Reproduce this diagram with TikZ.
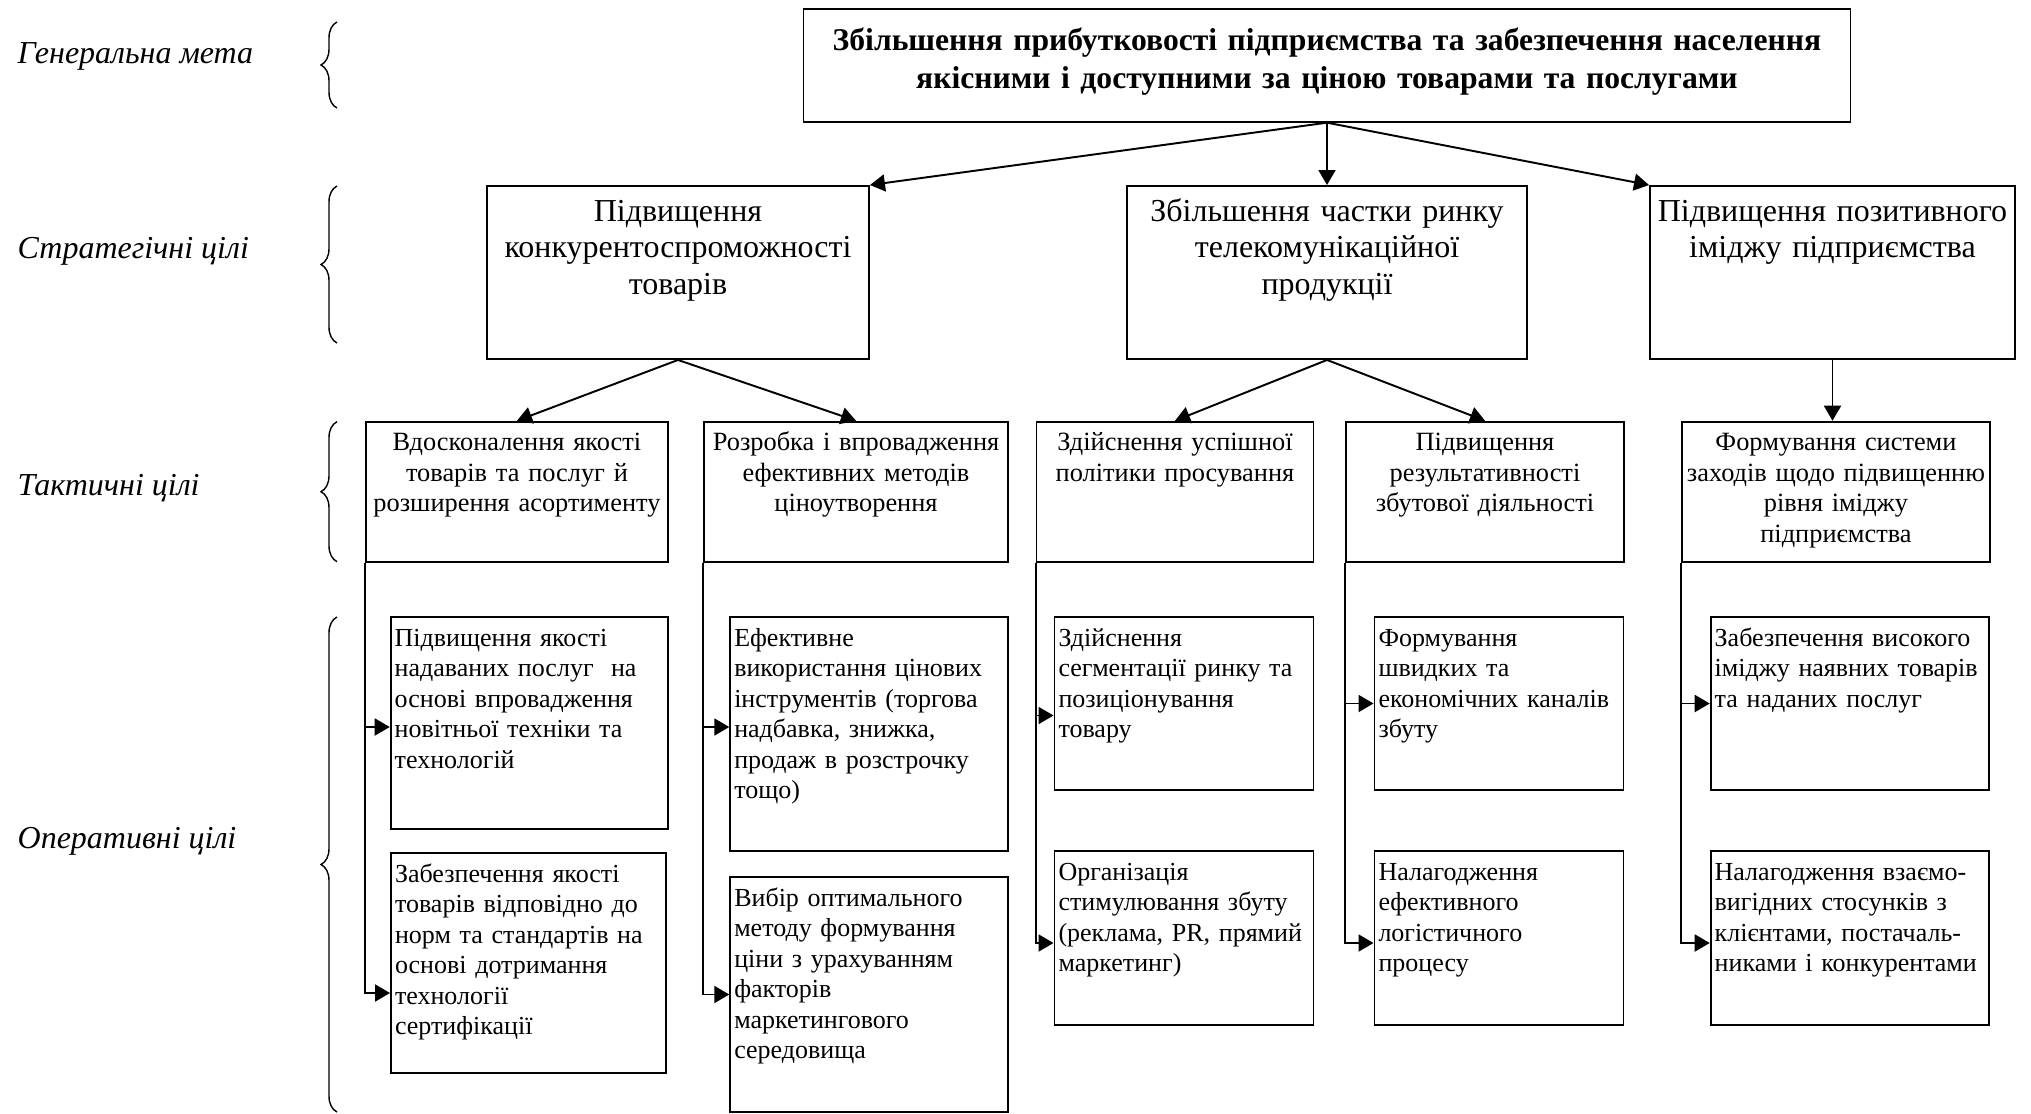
\documentclass[tikz,border=0pt]{standalone}
\usepackage{fontspec}
\setmainfont{Liberation Serif}
\usetikzlibrary{arrows.meta,positioning,calc,decorations.pathreplacing}

\begin{document}
\begin{tikzpicture}[line width=0.55pt,
  goalbox/.style={draw, inner xsep=0pt, inner ysep=0pt, align=center, text height=0.41cm, text depth=0.714cm, font=\fontsize{9.0}{10.8}\selectfont\bfseries},
  stratbox/.style={draw, inner xsep=0pt, inner ysep=0pt, align=center, text height=0.35cm, text depth=1.38cm, font=\fontsize{9.1}{10.5}\selectfont},
  tactbox/.style={draw, inner xsep=0pt, inner ysep=0pt, align=center, text height=0.29cm, text depth=1.11cm, font=\fontsize{7.5}{8.7}\selectfont},
  operbox/.style={draw, inner xsep=0.04cm, inner ysep=0pt, align=left, text height=0.29cm, font=\fontsize{7.4}{8.7}\selectfont},
  lvl/.style={anchor=base west, font=\fontsize{9.1}{10}\selectfont\itshape},
  brc/.style={decorate, decoration={brace, amplitude=0.16cm}, line width=0.4pt},
  arr/.style={-{Triangle[length=1.5mm, width=1.7mm]}}]
\useasboundingbox (0,0) rectangle (20.31,-11.14);

% levels on the left
\node[lvl] (l1) at (0.05,-0.63) {Генеральна мета};
\node[lvl] (l2) at (0.05,-2.58) {Стратегічні цілі};
\node[lvl] (l3) at (0.05,-4.95) {Тактичні цілі};
\node[lvl] (l4) at (0.05,-8.48) {Оперативні цілі};
\draw[brc] (3.37,-1.08) -- (3.37,-0.22);
\draw[brc] (3.37,-3.43) -- (3.37,-1.86);
\draw[brc] (3.37,-5.617) -- (3.37,-4.217);
\draw[brc] (3.37,-11.12) -- (3.37,-6.17);

% general goal
\node[goalbox, text width=10.47cm] (goal) at (13.27,-0.655) {Збільшення прибутковості підприємства та забезпечення населення\\ якісними і доступними за ціною товарами та послугами};

% strategic goals
\node[stratbox, text width=3.82cm] (s1) at (6.78,-2.725) {Підвищення\\ конкурентоспроможності\\ товарів};
\node[stratbox, text width=4.0cm] (s2) at (13.27,-2.725) {Збільшення частки ринку\\ телекомунікаційної\\ продукції};
\node[stratbox, text width=3.65cm] (s3) at (18.325,-2.725) {Підвищення позитивного\\ іміджу підприємства};

% tactical goals
\node[tactbox, text width=3.02cm] (t1) at (5.17,-4.917) {Вдосконалення якості\\ товарів та послуг й\\ розширення асортименту};
\node[tactbox, text width=3.035cm] (t2) at (8.56,-4.917) {Розробка і впровадження\\ ефективних методів\\ ціноутворення};
\node[tactbox, text width=2.77cm] (t3) at (11.75,-4.917) {Здійснення успішної\\ політики просування};
\node[tactbox, text width=2.776cm] (t4) at (14.85,-4.917) {Підвищення\\ результативності\\ збутової діяльності};
\node[tactbox, text width=3.08cm] (t5) at (18.36,-4.917) {Формування системи\\ заходів щодо підвищенню\\ рівня іміджу\\ підприємства};

% operational goals
\node[operbox, text width=2.696cm, text depth=1.83cm] (o1a) at (5.295,-7.23) {Підвищення якості\\ надаваних послуг~ на\\ основі впровадження\\ новітньої техніки та\\ технологій};
\node[operbox, text width=2.67cm, text depth=1.91cm] (o1b) at (5.285,-9.63) {Забезпечення якості\\ товарів відповідно до\\ норм та стандартів на\\ основі дотримання\\ технології\\ сертифікації};
\node[operbox, text width=2.695cm, text depth=2.05cm] (o2a) at (8.69,-7.34) {Ефективне\\ використання цінових\\ інструментів (торгова\\ надбавка, знижка,\\ продаж в розстрочку\\ тощо)};
\node[operbox, text width=2.695cm, text depth=2.06cm] (o2b) at (8.69,-9.945) {Вибір оптимального\\ методу формування\\ ціни з урахуванням\\ факторів\\ маркетингового\\ середовища};
\node[operbox, text width=2.51cm, text depth=1.44cm] (o3a) at (11.84,-7.035) {Здійснення\\ сегментації ринку та\\ позиціонування\\ товару};
\node[operbox, text width=2.51cm, text depth=1.45cm] (o3b) at (11.84,-9.38) {Організація\\ стимулювання збуту\\ (реклама, PR, прямий\\ маркетинг)};
\node[operbox, text width=2.41cm, text depth=1.44cm] (o4a) at (14.99,-7.035) {Формування\\ швидких та\\ економічних каналів\\ збуту};
\node[operbox, text width=2.41cm, text depth=1.45cm] (o4b) at (14.99,-9.38) {Налагодження\\ ефективного\\ логістичного\\ процесу};
\node[operbox, text width=2.706cm, text depth=1.44cm] (o5a) at (18.50,-7.035) {Забезпечення високого\\ іміджу наявних товарів\\ та наданих послуг};
\node[operbox, text width=2.706cm, text depth=1.45cm] (o5b) at (18.50,-9.38) {Налагодження взаємо-\\ вигідних стосунків з\\ клієнтами, постачаль-\\ никами і конкурентами};

% goal -> strategic
\draw[arr] (goal.south) -- (s1.north east);
\draw[arr] (goal.south) -- (s2.north);
\draw[arr] (goal.south) -- (s3.north west);

% strategic -> tactical
\draw[arr] (s1.south) -- (t1.north);
\draw[arr] (s1.south) -- (t2.north);
\draw[arr] (s2.south) -- (t3.north);
\draw[arr] (s2.south) -- (t4.north);
\draw[arr] (s3.south) -- (s3.south |- t5.north);

% tactical -> operational
\draw[arr] (t1.south west) |- ($(o1b.west)+(0,-0.30)$);
\draw[arr] ($(t1.south west |- o1a.west)+(0,-0.04)$) -- ($(o1a.west)+(0,-0.04)$);
\draw[arr] (t2.south west) |- (o2b.west);
\draw[arr] ($(t2.south west |- o2a.west)+(0,0.07)$) -- ($(o2a.west)+(0,0.07)$);
\draw[arr] (t3.south west) |- ($(o3b.west)+(0,-0.05)$);
\draw[arr] ($(t3.south west |- o3a.west)+(0,-0.12)$) -- ($(o3a.west)+(0,-0.12)$);
\draw[arr] (t4.south west) |- ($(o4b.west)+(0,-0.05)$);
\draw[arr] (t4.south west |- o4a.west) -- (o4a.west);
\draw[arr] (t5.south west) |- ($(o5b.west)+(0,-0.05)$);
\draw[arr] (t5.south west |- o5a.west) -- (o5a.west);
\end{tikzpicture}
\end{document}
